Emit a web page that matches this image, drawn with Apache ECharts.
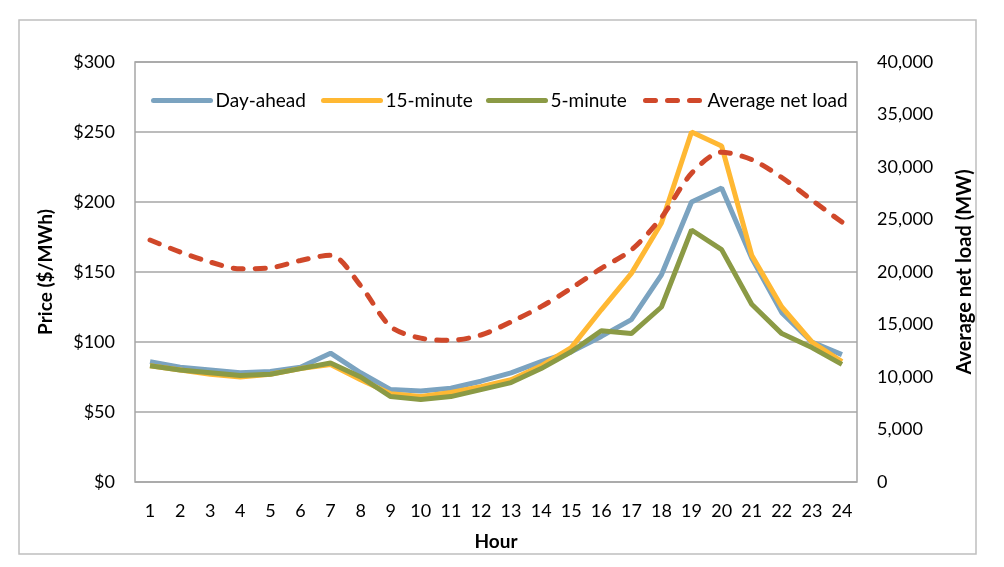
<!DOCTYPE html>
<html>
<head>
<meta charset="utf-8">
<script src="https://cdn.jsdelivr.net/npm/echarts@6/dist/echarts.min.js"></script>
<style>
html,body{margin:0;padding:0;background:#fff;}
#chart{width:1004px;height:567px;}
</style>
</head>
<body>
<div id="chart"></div>
<script>
const hours = ['1','2','3','4','5','6','7','8','9','10','11','12','13','14','15','16','17','18','19','20','21','22','23','24'];
const dayAhead = [86,82,80,78,79,82,92,78,66,65,67,72,78,86,93,104,116,148,200,210,160,121,100,91];
const fifteenMinute = [83,80,77,75,77,81,84,73,63,61,64,68,73,83,96,123,149,185,250,240,162,125,100,86];
const fiveMinute = [83,80,78,76,77,81,85,75,61,59,61,66,71,81,93,108,106,125,180,166,127,106,96,84];
const netLoad = [23050,21900,20950,20300,20400,21100,21600,18700,14800,13700,13500,14000,15250,16700,18450,20350,22100,25200,29400,31400,30700,29000,26850,24750];
const seriesNames = ['Day-ahead','15-minute','5-minute','Average net load'];

const FONT = 'Lato';
const chart = echarts.init(document.getElementById('chart'));
const legendLefts = [146, 316, 481, 638];
const legendBase = {
  top: 86, itemWidth: 57, itemHeight: 16, itemGap: 0,
  textStyle: {fontFamily: FONT, fontSize: 19, color: '#000'},
  itemStyle: {opacity: 0},
  lineStyle: {width: 5, cap: 'round'},
  selectedMode: false
};
chart.setOption({
  animation: false,
  textStyle: {fontFamily: FONT},
  graphic: [{
    type: 'rect', shape: {x: 19, y: 20, width: 957, height: 534},
    style: {fill: 'none', stroke: '#bfbfbf', lineWidth: 1.5}, z: -1
  }],
  legend: seriesNames.map((n, i) => Object.assign({}, legendBase, {left: legendLefts[i], data: [n]})),
  grid: {left: 135, right: 147, top: 62, bottom: 85, show: true, borderColor: '#a6a6a6', borderWidth: 1.5},
  xAxis: {
    type: 'category', data: hours, boundaryGap: true,
    name: 'Hour', nameLocation: 'middle', nameGap: 50,
    nameTextStyle: {fontFamily: FONT, fontSize: 19, fontWeight: 'bold', color: '#000'},
    axisLine: {show: false}, axisTick: {show: false},
    axisLabel: {fontFamily: FONT, fontSize: 18, color: '#000', margin: 20, interval: 0}
  },
  yAxis: [{
    type: 'value', min: 0, max: 300, interval: 50,
    name: 'Price ($/MWh)', nameLocation: 'middle', nameGap: 80, nameRotate: 90,
    nameTextStyle: {fontFamily: FONT, fontSize: 19, fontWeight: 'bold', color: '#000'},
    axisLine: {show: false}, axisTick: {show: false},
    axisLabel: {fontFamily: FONT, fontSize: 18, color: '#000', margin: 20, formatter: v => '$' + v},
    splitLine: {show: true, lineStyle: {color: '#a6a6a6', width: 1.5}}
  }, {
    type: 'value', min: 0, max: 40000, interval: 5000, position: 'right',
    name: 'Average net load (MW)', nameLocation: 'middle', nameGap: 98, nameRotate: 90,
    nameTextStyle: {fontFamily: FONT, fontSize: 20, fontWeight: 'bold', color: '#000'},
    axisLine: {show: false}, axisTick: {show: false},
    axisLabel: {fontFamily: FONT, fontSize: 18, color: '#000', margin: 20,
      formatter: v => v.toLocaleString('en-US')},
    splitLine: {show: false}
  }],
  series: [
    {name: seriesNames[0], type: 'line', data: dayAhead, symbol: 'none', yAxisIndex: 0,
      lineStyle: {color: '#7ba3c0', width: 5}, itemStyle: {color: '#7ba3c0'}},
    {name: seriesNames[1], type: 'line', data: fifteenMinute, symbol: 'none', yAxisIndex: 0,
      lineStyle: {color: '#ffb833', width: 5}, itemStyle: {color: '#ffb833'}},
    {name: seriesNames[2], type: 'line', data: fiveMinute, symbol: 'none', yAxisIndex: 0,
      lineStyle: {color: '#8b9a45', width: 5}, itemStyle: {color: '#8b9a45'}},
    {name: seriesNames[3], type: 'line', data: netLoad, symbol: 'none', yAxisIndex: 1, smooth: 0.3,
      lineStyle: {color: '#d0482a', width: 5, type: [10, 12], cap: 'round'}, itemStyle: {color: '#d0482a'}}
  ]
});
</script>
</body>
</html>
